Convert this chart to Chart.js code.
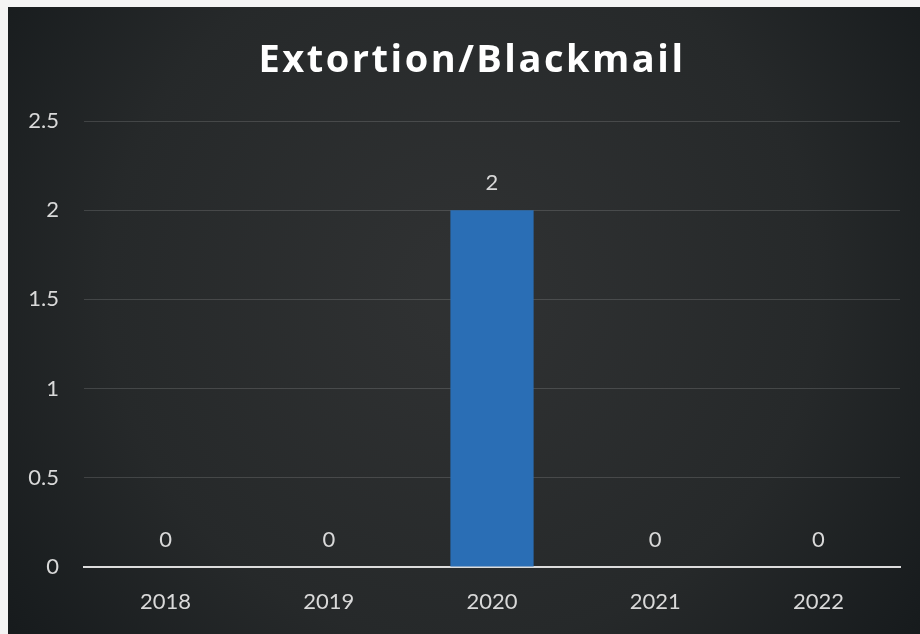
<!DOCTYPE html>
<html lang="en">
<head>
    <meta charset="UTF-8">
    <title>Extortion/Blackmail</title>
    <script src="https://cdn.jsdelivr.net/npm/chart.js"></script>
    <style>
        html, body {
            margin: 0;
            padding: 0;
            background-color: #f4f4f4;
        }
        #chart-container {
            position: absolute;
            left: 8px;
            top: 7px;
            width: 912px;
            height: 627px;
        }
    </style>
</head>
<body>

    <div id="chart-container">
        <canvas id="crime-chart"></canvas>
    </div>

    <script>
        const years = ['2018', '2019', '2020', '2021', '2022'];
        const cases = [0, 0, 2, 0, 0];
        const yTicks = [0, 0.5, 1, 1.5, 2, 2.5];
        const chartTitle = 'Extortion/Blackmail';

        const labelColor = '#d9d9d9';
        const fontFamily = 'Lato, "Open Sans", sans-serif';

        // dark board behind everything, lighter in the middle
        const boardBackground = {
            id: 'boardBackground',
            beforeDraw(chart) {
                const ctx = chart.ctx;
                const w = chart.width, h = chart.height;
                const g = ctx.createRadialGradient(w * 0.5, h * 0.45, 40, w * 0.5, h * 0.45, w * 0.62);
                g.addColorStop(0, '#2f3132');
                g.addColorStop(0.6, '#26292a');
                g.addColorStop(1, '#171b1d');
                ctx.save();
                ctx.fillStyle = g;
                ctx.fillRect(0, 0, w, h);
                ctx.restore();
            }
        };

        // spaced-out heading, drawn in the space kept free by layout.padding.top
        const boardTitle = {
            id: 'boardTitle',
            afterDraw(chart) {
                const ctx = chart.ctx;
                ctx.save();
                ctx.fillStyle = '#ffffff';
                ctx.font = 'bold 38px "Open Sans", sans-serif';
                ctx.letterSpacing = '2.5px';
                ctx.textAlign = 'center';
                ctx.textBaseline = 'alphabetic';
                ctx.fillText(chartTitle, chart.width / 2 + 8, 65);
                ctx.restore();
            }
        };

        // value written above each bar
        const valueLabels = {
            id: 'valueLabels',
            afterDatasetsDraw(chart) {
                const ctx = chart.ctx;
                const meta = chart.getDatasetMeta(0);
                ctx.save();
                ctx.fillStyle = labelColor;
                ctx.font = '22px ' + fontFamily;
                ctx.textAlign = 'center';
                ctx.textBaseline = 'middle';
                meta.data.forEach((bar, i) => {
                    ctx.fillText(String(cases[i]), bar.x, bar.y - 27);
                });
                ctx.restore();
            }
        };

        const ctx = document.getElementById('crime-chart').getContext('2d');
        window.chart = new Chart(ctx, {
            type: 'bar',
            data: {
                labels: years,
                datasets: [{
                    data: cases,
                    backgroundColor: '#2a6eb5',
                    borderWidth: 0,
                    categoryPercentage: 0.51,
                    barPercentage: 1
                }]
            },
            options: {
                responsive: true,
                maintainAspectRatio: false,
                animation: false,
                layout: {
                    padding: { left: 0, right: 20, top: 114, bottom: 0 }
                },
                plugins: {
                    legend: { display: false },
                    tooltip: { enabled: false },
                    title: { display: false }
                },
                scales: {
                    x: {
                        afterFit(scale) {
                            scale.height = 67;
                        },
                        grid: { display: false, drawTicks: false },
                        border: { display: true, color: '#dcdcdc', width: 2 },
                        ticks: {
                            color: labelColor,
                            font: { family: fontFamily, size: 22 },
                            padding: 22
                        }
                    },
                    y: {
                        min: 0,
                        max: 2.5,
                        afterBuildTicks(scale) {
                            scale.ticks = yTicks.map(v => ({ value: v }));
                        },
                        afterFit(scale) {
                            scale.width = 76;
                        },
                        grid: {
                            color: 'rgba(255, 255, 255, 0.14)',
                            lineWidth: 1,
                            drawTicks: false
                        },
                        border: { display: false },
                        ticks: {
                            color: labelColor,
                            font: { family: fontFamily, size: 22 },
                            padding: 25,
                            callback: v => String(v)
                        }
                    }
                }
            },
            plugins: [boardBackground, boardTitle, valueLabels]
        });
    </script>
</body>
</html>
